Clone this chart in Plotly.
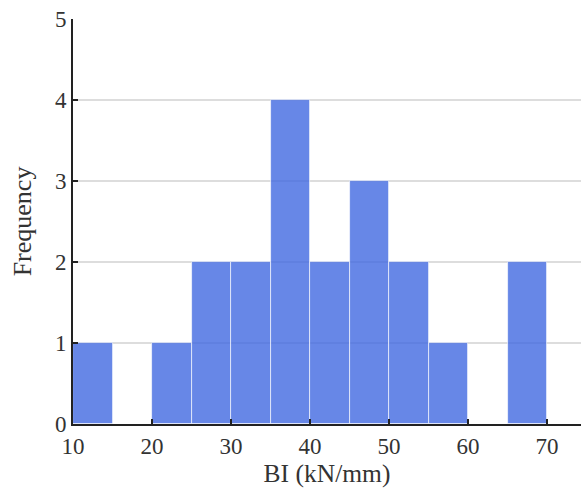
import plotly.graph_objects as go

bin_starts = [10, 15, 20, 25, 30, 35, 40, 45, 50, 55, 60, 65]
counts = [1, 0, 1, 2, 2, 4, 2, 3, 2, 1, 0, 2]
bin_width = 5
x_ticks = [10, 20, 30, 40, 50, 60, 70]
y_ticks = [0, 1, 2, 3, 4, 5]

centers = [s + bin_width / 2 for s in bin_starts]

fig = go.Figure(go.Bar(
    x=centers, y=counts, width=[bin_width] * len(counts),
    marker=dict(color="rgba(65,105,225,0.8)", line=dict(color="rgba(255,255,255,0.8)", width=0.8)),
))

font = "Liberation Serif, Times New Roman, serif"
fig.update_layout(
    width=581, height=493,
    margin=dict(l=73, r=0, t=19, b=69),
    plot_bgcolor="white", paper_bgcolor="white",
    font=dict(family=font, size=23, color="#333"),
    showlegend=False, bargap=0,
    xaxis=dict(range=[10, 74.3], tickvals=x_ticks, showgrid=False, zeroline=False,
               showline=True, linecolor="#222", linewidth=2,
               ticks="inside", ticklen=5, tickwidth=2, tickcolor="#222",
               tickfont=dict(size=23),
               title=dict(text="BI (kN/mm)", font=dict(size=25.5), standoff=3)),
    yaxis=dict(range=[0, 5], tickvals=y_ticks, showgrid=True, gridcolor="#dddddd", gridwidth=1.5,
               zeroline=False, showline=True, linecolor="#222", linewidth=2,
               ticks="inside", ticklen=5, tickwidth=2, tickcolor="#222",
               tickfont=dict(size=23),
               title=dict(text="Frequency", font=dict(size=26), standoff=16)),
)
fig.write_html("out.html")
